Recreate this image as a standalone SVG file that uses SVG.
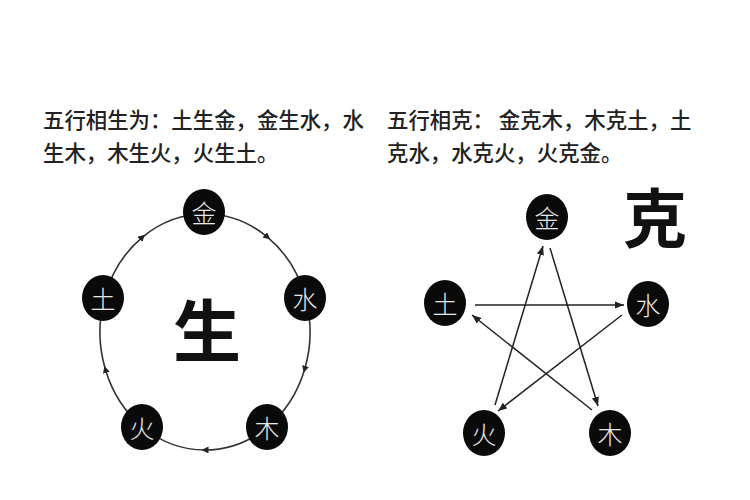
<svg xmlns="http://www.w3.org/2000/svg" width="750" height="500" viewBox="0 0 750 500">
<defs>
<style>
.cap{font-family:"Noto Sans CJK SC","Noto Sans",sans-serif;font-size:21.4px;font-weight:500;fill:#222;}
.node{fill:#0a0a0a;}
.glyph{font-family:"Noto Sans CJK SC",sans-serif;font-size:25px;font-weight:300;fill:#e8e8e8;text-anchor:middle;dominant-baseline:central;}
.big{font-family:"Noto Sans CJK SC",sans-serif;font-weight:700;fill:#111;text-anchor:middle;dominant-baseline:central;}
.arc{fill:none;stroke:#333;stroke-width:1.6;}
.ln{fill:none;stroke:#222;stroke-width:1.5;}
</style>
<marker id="mid" viewBox="0 0 10 10" refX="5" refY="5" markerWidth="7" markerHeight="7" markerUnits="userSpaceOnUse" orient="auto"><path d="M0,0 L10,5 L0,10 z" fill="#222"/></marker>
<marker id="head" viewBox="0 0 10 10" refX="10" refY="5" markerWidth="9" markerHeight="9" markerUnits="userSpaceOnUse" orient="auto"><path d="M0,1 L10,5 L0,9 z" fill="#222"/></marker>
</defs>
<rect width="750" height="500" fill="#fff"/>
<g id="captions">
<text class="cap" x="43" y="128">五行相生为：土生金，金生水，水</text>
<text class="cap" x="43" y="161">生木，木生火，火生土。</text>
<text class="cap" x="387" y="128">五行相克： 金克木，木克土，土</text>
<text class="cap" x="387" y="161">克水，水克火，火克金。</text>
</g>
<g id="connectors">
<path class="arc" marker-mid="url(#mid)" d="M205,214 A105,118 0 0 1 267.5,237.1 A105,118 0 0 1 305.4,297.5"/>
<path class="arc" marker-mid="url(#mid)" d="M305.4,297.5 A105,118 0 0 1 304.6,369.4 A105,118 0 0 1 266.7,427.5"/>
<path class="arc" marker-mid="url(#mid)" d="M266.7,427.5 A105,118 0 0 1 205,450 A105,118 0 0 1 143.3,427.5"/>
<path class="arc" marker-mid="url(#mid)" d="M143.3,427.5 A105,118 0 0 1 105.4,369.4 A105,118 0 0 1 104.6,297.5"/>
<path class="arc" marker-mid="url(#mid)" d="M104.6,297.5 A105,118 0 0 1 142.5,237.1 A105,118 0 0 1 205,214"/>
<line class="ln" marker-end="url(#head)" x1="550" y1="248" x2="598" y2="406"/>
<line class="ln" marker-end="url(#head)" x1="592" y1="410" x2="472" y2="315"/>
<line class="ln" marker-end="url(#head)" x1="475" y1="305" x2="624" y2="305"/>
<line class="ln" marker-end="url(#head)" x1="622" y1="315" x2="498" y2="411"/>
<line class="ln" marker-end="url(#head)" x1="495" y1="405" x2="543" y2="246"/>
</g>
<g id="sheng-center"><text class="big" x="207" y="327" font-size="68">生</text></g>
<g id="ke-label"><text class="big" x="655" y="214" font-size="64">克</text></g>
<g id="L-jin"><ellipse class="node" cx="204" cy="212" rx="21" ry="23"/><text class="glyph" x="204" y="212">金</text></g>
<g id="L-shui"><ellipse class="node" cx="305" cy="298" rx="21" ry="23"/><text class="glyph" x="305" y="298">水</text></g>
<g id="L-mu"><ellipse class="node" cx="267" cy="427" rx="21" ry="23"/><text class="glyph" x="267" y="427">木</text></g>
<g id="L-huo"><ellipse class="node" cx="142" cy="427" rx="21" ry="23"/><text class="glyph" x="142" y="427">火</text></g>
<g id="L-tu"><ellipse class="node" cx="103" cy="298" rx="21" ry="23"/><text class="glyph" x="103" y="298">土</text></g>
<g id="R-jin"><ellipse class="node" cx="547" cy="217" rx="21" ry="23"/><text class="glyph" x="547" y="217">金</text></g>
<g id="R-shui"><ellipse class="node" cx="648" cy="304" rx="21" ry="23"/><text class="glyph" x="648" y="304">水</text></g>
<g id="R-mu"><ellipse class="node" cx="610" cy="433" rx="21" ry="23"/><text class="glyph" x="610" y="433">木</text></g>
<g id="R-huo"><ellipse class="node" cx="484" cy="433" rx="21" ry="23"/><text class="glyph" x="484" y="433">火</text></g>
<g id="R-tu"><ellipse class="node" cx="445" cy="303" rx="21" ry="23"/><text class="glyph" x="445" y="303">土</text></g>
</svg>
